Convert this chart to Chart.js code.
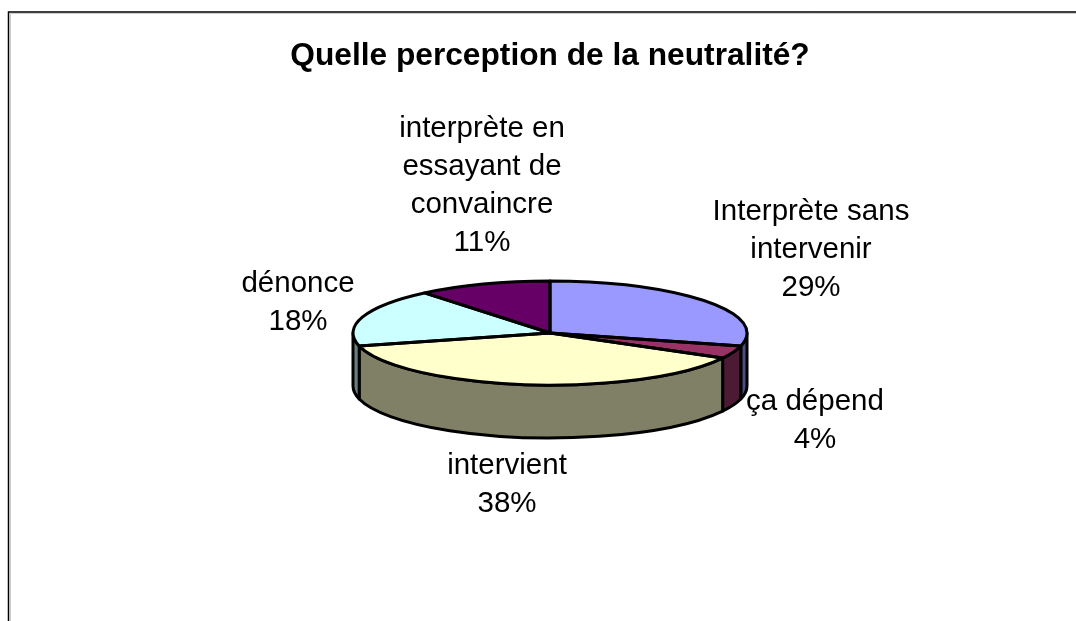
<!DOCTYPE html>
<html><head><meta charset="utf-8">
<style>html,body{margin:0;padding:0;background:#fff}canvas{display:block}</style>
<script src="https://cdn.jsdelivr.net/npm/chart.js@4"></script>
</head><body><canvas id="c" width="1076" height="621"></canvas>
<script>
const titleText = "Quelle perception de la neutralité?";
const categories = [["Interprète sans","intervenir"],["ça dépend"],["intervient"],["dénonce"],["interprète en","essayant de","convaincre"]];
const values = [29,4,38,18,11];
const topColors = ["#9999ff","#993366","#ffffcc","#ccffff","#660066"];
const sideColors = ["#4d4d80","#4d1a33","#808066","#668080","#330033"];
const labelX = [811,815,507,298,482];
const labelY = [212,402,466,284,129];
const squash = 52/197, depth = 53, lineGap = 38;

const geom = a => ({x:a.x,y:a.y,rx:a.outerRadius,ry:a.outerRadius*squash,s:a.startAngle,e:a.endAngle});
const plugin3d = {
  id:'pie3d',
  beforeDraw(chart){
    const c=chart.ctx;c.save();
    c.fillStyle='#fff';c.fillRect(0,0,chart.width,chart.height);
    c.strokeStyle='#ccc';c.lineWidth=1;c.beginPath();c.moveTo(10.5,621);c.lineTo(10.5,13.5);c.lineTo(1076,13.5);c.stroke();
    c.strokeStyle='#000';c.lineWidth=1.5;c.beginPath();c.moveTo(8.5,621);c.lineTo(8.5,12);c.lineTo(1076,12);c.stroke();
    c.restore();
  },
  beforeDatasetsDraw(chart){
    const c=chart.ctx, arcs=chart.getDatasetMeta(0).data;
    c.save();c.lineJoin='round';
    arcs.forEach((a,i)=>{
      const g=geom(a);
      const ranges=[[g.s,g.e],[g.s-2*Math.PI,g.e-2*Math.PI],[g.s+2*Math.PI,g.e+2*Math.PI]];
      ranges.forEach(([s0,e0])=>{
        const s=Math.max(s0,0), e=Math.min(e0,Math.PI);
        if(e<=s) return;
        c.beginPath();
        c.ellipse(g.x,g.y,g.rx,g.ry,0,s,e);
        c.ellipse(g.x,g.y+depth,g.rx,g.ry,0,e,s,true);
        c.closePath();
        c.fillStyle=sideColors[i];c.fill();
        c.strokeStyle='#000';c.lineWidth=3;c.stroke();
      });
    });
    c.restore();
    c.save();
    const f=arcs[0];
    c.translate(f.x,f.y);c.scale(1,squash);c.translate(-f.x,-f.y);
  },
  afterDatasetsDraw(chart){
    const c=chart.ctx, arcs=chart.getDatasetMeta(0).data;
    c.restore();
    c.save();c.lineJoin='round';c.strokeStyle='#000';c.lineWidth=3;
    arcs.forEach(a=>{
      const g=geom(a);
      c.beginPath();c.moveTo(g.x,g.y);
      c.ellipse(g.x,g.y,g.rx,g.ry,0,g.s,g.e);
      c.closePath();c.stroke();
    });
    c.restore();
    c.save();
    c.font='29.5px "Liberation Sans", Arial, sans-serif';c.fillStyle='#000';
    c.textAlign='center';c.textBaseline='middle';
    categories.forEach((lines,i)=>{
      [...lines,values[i]+'%'].forEach((t,k)=>c.fillText(t,labelX[i],labelY[i]+k*lineGap));
    });
    c.restore();
  }
};
new Chart(document.getElementById('c'),{
  type:'pie',
  data:{labels:categories.map(l=>l.join(' ')),datasets:[{data:values,backgroundColor:topColors,borderWidth:0}]},
  options:{
    responsive:false,animation:false,
    layout:{padding:{left:24,right:0,top:0,bottom:91}},
    plugins:{
      legend:{display:false},tooltip:{enabled:false},
      title:{display:true,text:titleText,color:'#000',font:{family:'"Liberation Sans", Arial, sans-serif',size:31.7,weight:'bold',lineHeight:1.2},padding:{top:37.2,bottom:60.76}}
    }
  },
  plugins:[plugin3d]
});
</script></body></html>
